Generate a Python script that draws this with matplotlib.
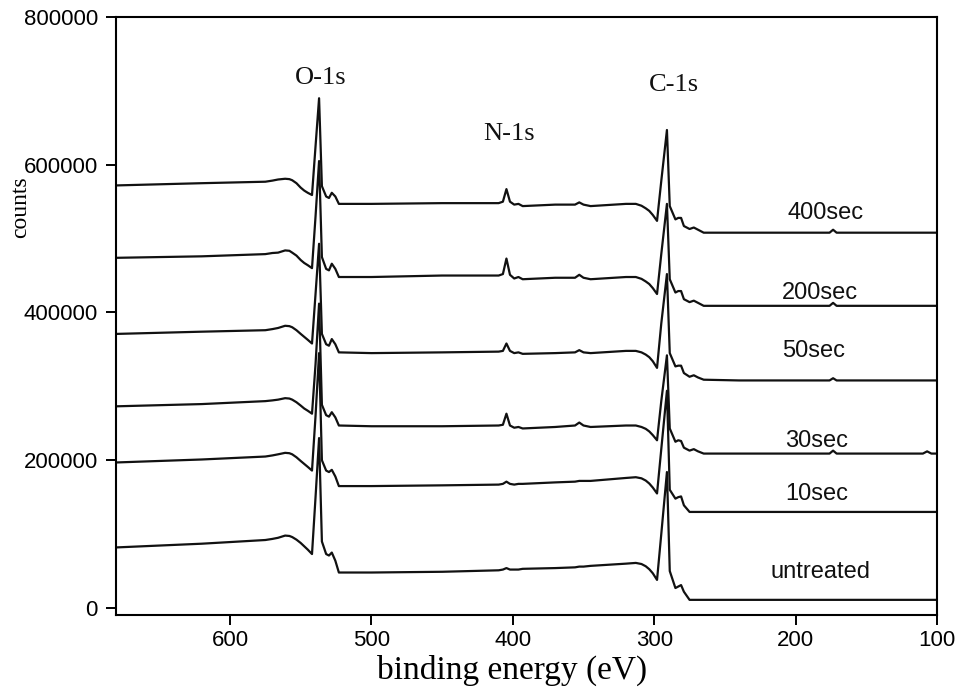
import matplotlib.pyplot as plt

# binding energy grid (eV), shared by all spectra
energy = [680, 620, 575, 570, 566, 561, 558, 556, 553, 550, 547.5, 545, 542, 539.5,
          537, 535, 532, 530, 528, 525.5, 523, 500, 450, 410, 407, 404.5, 402, 399,
          396, 393, 370, 356, 353, 350, 345, 320, 313, 309, 306, 303.5, 301, 298,
          295, 291, 289, 285, 283, 281, 279, 275, 272, 269, 265, 240, 176, 173.5,
          171, 130, 110, 107, 104, 100]

counts_400 = [572000, 575000, 577000, 578500, 580000, 581000, 580500, 579000, 575000,
              569000, 565000, 562000, 559000, 625000, 690000, 571000, 557000, 555000,
              562000, 557000, 547000, 547000, 548000, 548000, 550000, 567000, 550000,
              546000, 547000, 544000, 546000, 546000, 549000, 546000, 544000, 547000,
              547000, 544500, 541000, 537500, 532000, 524000, 578000, 647000, 544000,
              526000, 528000, 528000, 517000, 513000, 515000, 512000, 508000, 508000,
              508000, 512000, 508000, 508000, 508000, 508000, 508000, 508000]
counts_200 = [474000, 476000, 479000, 480500, 481000, 484000, 483500, 481000, 477000,
              471000, 467000, 464000, 460000, 530000, 605000, 475000, 459000, 457000,
              466000, 459000, 448000, 448000, 450000, 450000, 452000, 473000, 451000,
              446000, 448000, 445000, 447000, 447000, 451000, 447000, 445000, 448000,
              448000, 445500, 442000, 438500, 433000, 425000, 479000, 547000, 445000,
              427000, 429000, 429000, 418000, 414000, 416000, 413000, 409000, 409000,
              409000, 413000, 409000, 409000, 409000, 409000, 409000, 409000]
counts_50 = [371000, 374000, 376000, 377500, 379000, 382000, 381500, 380000, 376000,
             371000, 367000, 363000, 358000, 425000, 493000, 371000, 357000, 355000,
             364000, 357000, 346000, 345000, 346000, 347000, 348000, 358000, 348000,
             345000, 346000, 344000, 345000, 346000, 349000, 346000, 345000, 348000,
             348000, 346000, 343000, 339500, 334000, 325000, 385000, 452000, 345000,
             327000, 328000, 328000, 318000, 313000, 315000, 312000, 309000, 308000,
             308000, 311000, 308000, 308000, 308000, 308000, 308000, 308000]
counts_30 = [273000, 276000, 280000, 281000, 282000, 284000, 283500, 282000, 278500,
             274000, 270000, 267000, 263000, 330000, 412000, 275000, 261000, 259000,
             265000, 258000, 247000, 246000, 246000, 247000, 248000, 263000, 247000,
             244000, 245000, 243000, 245000, 247000, 251000, 247000, 245000, 247000,
             247000, 245000, 242500, 239000, 234000, 227000, 280000, 342000, 243000,
             225000, 227000, 226000, 217000, 213000, 215000, 212000, 209000, 209000,
             209000, 213000, 209000, 209000, 209000, 212000, 209000, 209000]
counts_10 = [197000, 201000, 205000, 206500, 208000, 210000, 209500, 208000, 204000,
             199000, 195000, 191000, 186000, 260000, 345000, 200000, 186000, 184000,
             187000, 178000, 165000, 165000, 166000, 167000, 168000, 171000, 168000,
             167000, 168000, 168000, 170000, 171000, 172000, 172000, 172000, 176000,
             177000, 175500, 172500, 168500, 163000, 155000, 215000, 294000, 160000,
             148000, 150000, 151000, 139000, 130000, 130000, 130000, 130000, 130000,
             130000, 130000, 130000, 130000, 130000, 130000, 130000, 130000]
counts_untreated = [82000, 87000, 92000, 93500, 95000, 98000, 97500, 96000, 92500,
                    88000, 83500, 79000, 73000, 150000, 230000, 90000, 73000, 71000,
                    75000, 64000, 48000, 48000, 49000, 51000, 52000, 54000, 52000,
                    52000, 52000, 53000, 54000, 55000, 56000, 56000, 57000, 60000,
                    61000, 59500, 56500, 52500, 47000, 38000, 100000, 184000, 50000,
                    27000, 29000, 31000, 22000, 11000, 11000, 11000, 11000, 11000,
                    11000, 11000, 11000, 11000, 11000, 11000, 11000, 11000]

spectra = [counts_400, counts_200, counts_50, counts_30, counts_10, counts_untreated]
labels = ["400sec", "200sec", "50sec", "30sec", "10sec", "untreated"]
label_x = [179, 182.7, 187.6, 185.5, 184.8, 182.7]
label_y = [535000, 427000, 348500, 225600, 154000, 48600]

peak_names = ["O-1s", "N-1s", "C-1s"]
peak_x = [536, 402.5, 286]
peak_y = [718000, 641000, 708000]

fig = plt.figure(figsize=(9.58, 6.9), dpi=100)
ax = fig.add_axes([0.1211, 0.1087, 0.8570, 0.8667])

for c in spectra:
    ax.plot(energy, c, color="#111111", linewidth=1.6)

for name, x, y in zip(labels, label_x, label_y):
    ax.text(x, y, name, ha="center", va="center", fontsize=17,
            family="Liberation Sans", color="#111111")

for name, x, y in zip(peak_names, peak_x, peak_y):
    ax.text(x, y, name, ha="center", va="center", fontsize=19,
            family="Liberation Serif", color="#111111")

ax.set_xlim(680.6, 100)
ax.set_ylim(-9500, 800000)
ax.set_xticks([600, 500, 400, 300, 200, 100])
ax.set_yticks([0, 200000, 400000, 600000, 800000])
ax.tick_params(direction="out", length=7, width=1.4, labelsize=16, pad=6)
ax.tick_params(axis="x", pad=4)
for lab in ax.get_xticklabels() + ax.get_yticklabels():
    lab.set_family("Liberation Sans")
for s in ax.spines.values():
    s.set_linewidth(1.5)

# axis titles placed in figure coordinates
fig.text(0.534, 0.029, "binding energy (eV)", ha="center", va="center",
         family="Liberation Serif", fontsize=24)
fig.text(0.022, 0.70, "counts", rotation=90, ha="center", va="center",
         family="Liberation Serif", fontsize=17)

fig.savefig("out.png", dpi=100)
